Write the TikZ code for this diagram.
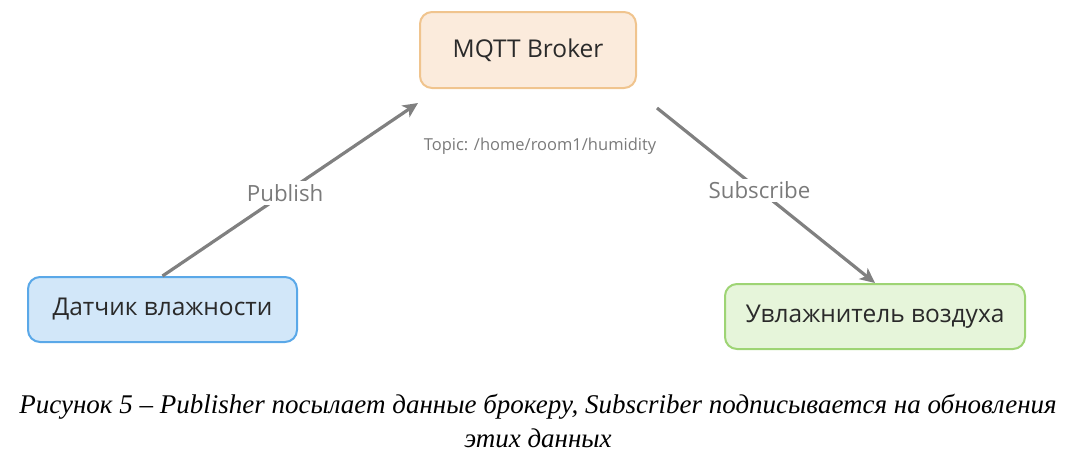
\documentclass[tikz,border=0pt]{standalone}
\usepackage{fontspec}
\setmainfont{Liberation Serif}
\newfontfamily\osans{Open Sans}
\usetikzlibrary{arrows.meta}
\definecolor{arrgray}{HTML}{808080}
\definecolor{txtgray}{HTML}{7A7A7A}
\definecolor{txtdark}{HTML}{2A2A2A}
\definecolor{brkfill}{HTML}{FBEBDC}
\definecolor{brkdraw}{HTML}{F0C48E}
\definecolor{bluefill}{HTML}{D2E7F9}
\definecolor{bluedraw}{HTML}{5AA8E8}
\definecolor{grnfill}{HTML}{E6F5DA}
\definecolor{grndraw}{HTML}{9ED474}
\tikzset{
  box/.style={rounded corners=12pt, line width=2pt, inner sep=0pt, font=\osans\fontsize{24.5}{28}\selectfont, text=txtdark},
  conn/.style={draw=arrgray, line width=3.2pt, -{Stealth[length=15pt,width=14pt,inset=4pt]}},
  elabel/.style={fill=white, inner sep=3pt, text=txtgray, font=\osans\fontsize{22.3}{26}\selectfont},
  captext/.style={font=\itshape\fontsize{27}{31}\selectfont, text=black}
}
\begin{document}
\begin{tikzpicture}[x=1pt,y=-1pt]
\useasboundingbox (0,0) rectangle (1078,467);
\node[box, fill=brkfill, draw=brkdraw, minimum width=216pt, minimum height=76pt] (broker) at (528,50) {MQTT Broker};
\node[box, fill=bluefill, draw=bluedraw, minimum width=269pt, minimum height=65pt] (sensor) at (162.5,309.5) {Датчик влажности};
\node[box, fill=grnfill, draw=grndraw, minimum width=300pt, minimum height=65pt] (humid) at (875,316.5) {Увлажнитель воздуха};
\coordinate (pubend) at (418,103);
\coordinate (substart) at (657,108);
\draw[conn] (sensor.north) -- node[elabel, pos=0.48] {Publish} (pubend);
\draw[conn] (substart) -- node[elabel, pos=0.47] {Subscribe} (humid.north);
\node[text=txtgray, font=\osans\fontsize{16.5}{19}\selectfont] (topic) at (540,146) {Topic: /home/room1/humidity};
\node[captext] (cap1) at (538,407) {Рисунок 5 – Publisher посылает данные брокеру, Subscriber подписывается на обновления};
\node[captext] (cap2) at (538,438) {этих данных};
\end{tikzpicture}
\end{document}
